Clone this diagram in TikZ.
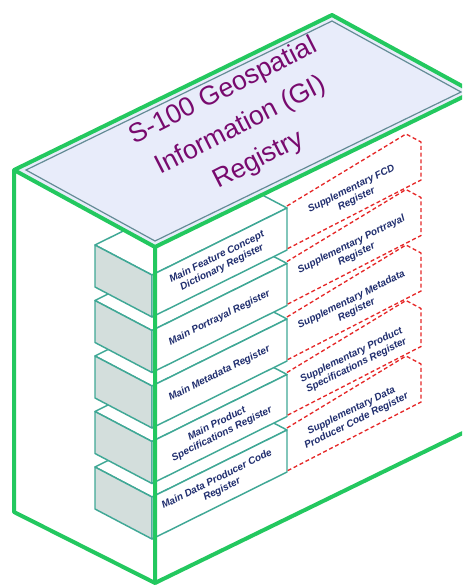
\documentclass[tikz,border=0pt]{standalone}
\usepackage{fontspec}
\setmainfont{Liberation Sans}

\definecolor{regreen}{RGB}{35,200,95}
\definecolor{regteal}{RGB}{64,168,150}
\definecolor{regside}{RGB}{211,222,220}
\definecolor{regtop}{RGB}{232,236,250}
\definecolor{reginner}{RGB}{100,140,150}
\definecolor{suppred}{RGB}{230,40,40}
\definecolor{lblnavy}{RGB}{31,45,110}
\definecolor{titlepurple}{RGB}{120,10,110}

\begin{document}
\begin{tikzpicture}[x=0.75pt,y=0.75pt,yscale=-1,xscale=1,
  frontface/.style={draw=regteal,line width=1.1,fill=white,line join=round},
  sideface/.style={draw=regteal,line width=1.1,fill=regside,line join=round},
  suppbox/.style={draw=suppred,line width=1,dash pattern={on 3pt off 2pt}},
  greenline/.style={draw=regreen,line width=3,line join=round},
  boxlbl/.style={font=\fontsize{7.5}{8.6}\selectfont\bfseries\itshape,text=lblnavy,align=center,rotate=26.5},
  gititle/.style={font=\fontsize{20}{29}\selectfont,text=titlepurple,align=center,rotate=27}]
\useasboundingbox (0,0) rectangle (462,587);
\clip (0,0) rectangle (462,587);
\fill [white] (0,0) rectangle (462,587);

%Shape: Main Data Producer Code box
\draw [frontface] (95,467) -- (152,497) -- (287,430) -- (230,400) -- cycle ;
\draw [sideface] (95,467) -- (152,497) -- (152,539) -- (95,509) -- cycle ;
\draw [frontface] (152,497) -- (287,430) -- (287,472) -- (152,539) -- cycle ;
%Shape: Main Product Specifications box
\draw [frontface] (95,411.5) -- (152,441.5) -- (287,374.5) -- (230,344.5) -- cycle ;
\draw [sideface] (95,411.5) -- (152,441.5) -- (152,483.5) -- (95,453.5) -- cycle ;
\draw [frontface] (152,441.5) -- (287,374.5) -- (287,416.5) -- (152,483.5) -- cycle ;
%Shape: Main Metadata box
\draw [frontface] (95,356) -- (152,386) -- (287,319) -- (230,289) -- cycle ;
\draw [sideface] (95,356) -- (152,386) -- (152,428) -- (95,398) -- cycle ;
\draw [frontface] (152,386) -- (287,319) -- (287,361) -- (152,428) -- cycle ;
%Shape: Main Portrayal box
\draw [frontface] (95,300.5) -- (152,330.5) -- (287,263.5) -- (230,233.5) -- cycle ;
\draw [sideface] (95,300.5) -- (152,330.5) -- (152,372.5) -- (95,342.5) -- cycle ;
\draw [frontface] (152,330.5) -- (287,263.5) -- (287,305.5) -- (152,372.5) -- cycle ;
%Shape: Main Feature Concept Dictionary box
\draw [frontface] (95,245) -- (152,275) -- (287,208) -- (230,178) -- cycle ;
\draw [sideface] (95,245) -- (152,275) -- (152,317) -- (95,287) -- cycle ;
\draw [frontface] (152,275) -- (287,208) -- (287,250) -- (152,317) -- cycle ;

%Shape: Supplementary boxes (dashed)
\draw [suppbox] (287,206) -- (406,134) -- (421,142) -- (421,180) -- (287,249) ;
\draw [suppbox] (287,261.5) -- (406,189.5) -- (421,197.5) -- (421,235.5) -- (287,304.5) ;
\draw [suppbox] (287,317) -- (406,245) -- (421,253) -- (421,291) -- (287,360) ;
\draw [suppbox] (287,372.5) -- (406,300.5) -- (421,308.5) -- (421,346.5) -- (287,415.5) ;
\draw [suppbox] (287,428) -- (406,356) -- (421,364) -- (421,402) -- (287,471) ;

%Shape: Registry top face
\draw [greenline, fill=regtop] (14,170) -- (332,15) -- (473,92) -- (155,247) -- cycle ;
\draw [draw=reginner, line width=0.9] (26,170) -- (332,21) -- (461,92) -- (155,241) -- cycle ;
%Straight Lines: Registry edges
\draw [greenline] (14,170) -- (14,512) -- (155,583) -- (155,247) ;
\draw [greenline] (155,583) -- (473,428) -- (473,92) ;

% Text Node
\draw (241,126) node (gi) [gititle] {S-100 Geospatial\\Information (GI)\\Registry};
% Text Node
\draw (219.5,262.5) node (mfcd) [boxlbl] {Main Feature Concept\\Dictionary Register};
% Text Node
\draw (219.5,318) node (mpor) [boxlbl] {Main Portrayal Register};
% Text Node
\draw (219.5,373.5) node (mmeta) [boxlbl] {Main Metadata Register};
% Text Node
\draw (219.5,429) node (mprod) [boxlbl] {Main Product\\Specifications Register};
% Text Node
\draw (219.5,484.5) node (mdpc) [boxlbl] {Main Data Producer Code\\Register};
% Text Node
\draw (354,194) node (sfcd) [boxlbl] {Supplementary FCD\\Register};
% Text Node
\draw (354,249.5) node (spor) [boxlbl] {Supplementary Portrayal\\Register};
% Text Node
\draw (354,305) node (smeta) [boxlbl] {Supplementary Metadata\\Register};
% Text Node
\draw (354,360.5) node (sprod) [boxlbl] {Supplementary Product\\Specifications Register};
% Text Node
\draw (354,416) node (sdpc) [boxlbl] {Supplementary Data\\Producer Code Register};

\end{tikzpicture}
\end{document}
